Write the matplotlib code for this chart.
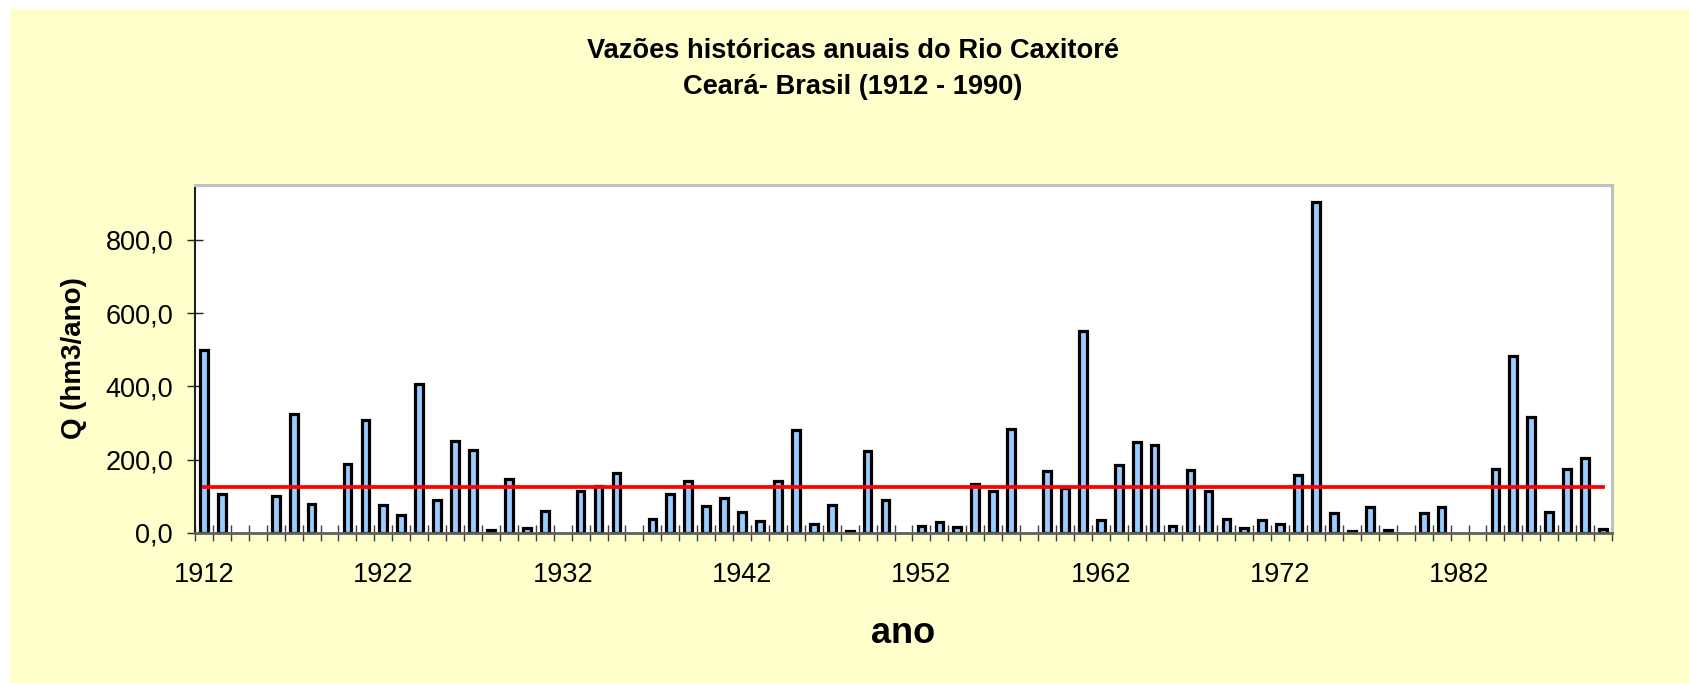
import numpy as np
import matplotlib
matplotlib.use("Agg")
import matplotlib.pyplot as plt
from matplotlib.patches import Rectangle
from matplotlib.ticker import FixedLocator, FuncFormatter

plt.rcParams['font.family'] = ['Liberation Sans', 'DejaVu Sans']

# anos 1912 - 1990, vazao anual (hm3/ano); nan = sem registro
anos = list(range(1912, 1991))
vazao = [500, 107, np.nan, np.nan, 101, 324, 79, np.nan, 188, 308,
         77, 49, 407, 89, 250, 226, 7, 148, 15, 61,
         np.nan, 114, 128, 165, np.nan, 37, 107, 143, 75, 95,
         58, 32, 141, 280, 24, 77, 5, 225, 91, np.nan,
         20, 31, 16, 135, 116, 285, np.nan, 168, 123, 551,
         35, 185, 249, 239, 20, 171, 116, 39, 15, 35,
         25, 157, 903, 54, 5, 70, 9, np.nan, 54, 70,
         np.nan, np.nan, 174, 483, 316, 57, 175, 205, 11]
media = 126.0
rotulos_x = [1912, 1922, 1932, 1942, 1952, 1962, 1972, 1982]
ticks_y = [0, 200, 400, 600, 800]

W, H = 1690, 683
fig = plt.figure(figsize=(W / 100, H / 100), dpi=100, facecolor='white')
fig.patches.append(Rectangle((10 / W, 0), 1 - 10 / W, 1 - 9 / H,
                             transform=fig.transFigure, facecolor='#FFFFCC',
                             edgecolor='none', zorder=-10))

ax = fig.add_axes([195 / W, 1 - 533 / H, (1612 - 195) / W, (533 - 185) / H])
ax.set_facecolor('white')

x = np.arange(len(anos))
ax.bar(x, vazao, width=0.43, color='#99CCFF', edgecolor='black',
       linewidth=2.3, zorder=2)
ax.plot(x, [media] * len(anos), color='#FF0000', linewidth=2.7, zorder=3)

ax.set_xlim(-0.5, len(anos) - 0.5)
ax.set_ylim(0, 950)

# rotulos do eixo x a cada 10 anos, marcas entre categorias
pos_rot = [anos.index(a) for a in rotulos_x]
ax.xaxis.set_major_locator(FixedLocator(pos_rot))
ax.set_xticklabels([str(a) for a in rotulos_x])
ax.xaxis.set_minor_locator(FixedLocator(np.arange(len(anos) + 1) - 0.5))
ax.tick_params(axis='x', which='major', length=0, pad=21, labelsize=19.5)
ax.tick_params(axis='x', which='minor', direction='inout', length=11.5,
               width=1.0, color='#404040')

ax.set_yticks(ticks_y)
ax.yaxis.set_major_formatter(FuncFormatter(lambda v, p: f"{v:.1f}".replace('.', ',')))
ax.tick_params(axis='y', direction='inout', length=11.5, width=1.0,
               pad=10, labelsize=19.5, color='#202020')

ax.spines['left'].set_color('#202020')
ax.spines['left'].set_linewidth(1.5)
ax.spines['bottom'].set_color('#606060')
ax.spines['bottom'].set_linewidth(2.0)
for s in ('top', 'right'):
    ax.spines[s].set_color('#C0C0C0')
    ax.spines[s].set_linewidth(2.2)

fig.text(853 / W, 1 - 50.5 / H, 'Vazões históricas anuais do Rio Caxitoré',
         ha='center', va='center', fontsize=19.6, fontweight='bold')
fig.text(853 / W, 1 - 86.5 / H, 'Ceará- Brasil (1912 - 1990)',
         ha='center', va='center', fontsize=19.6, fontweight='bold')
fig.text(74.5 / W, 1 - 358 / H, 'Q (hm3/ano)', rotation=90,
         ha='center', va='center', fontsize=20, fontweight='bold')
fig.text(903 / W, 1 - 643 / H, 'ano', ha='center', va='baseline',
         fontsize=26, fontweight='bold')

fig.savefig('out.png', dpi=100, facecolor=fig.get_facecolor())
